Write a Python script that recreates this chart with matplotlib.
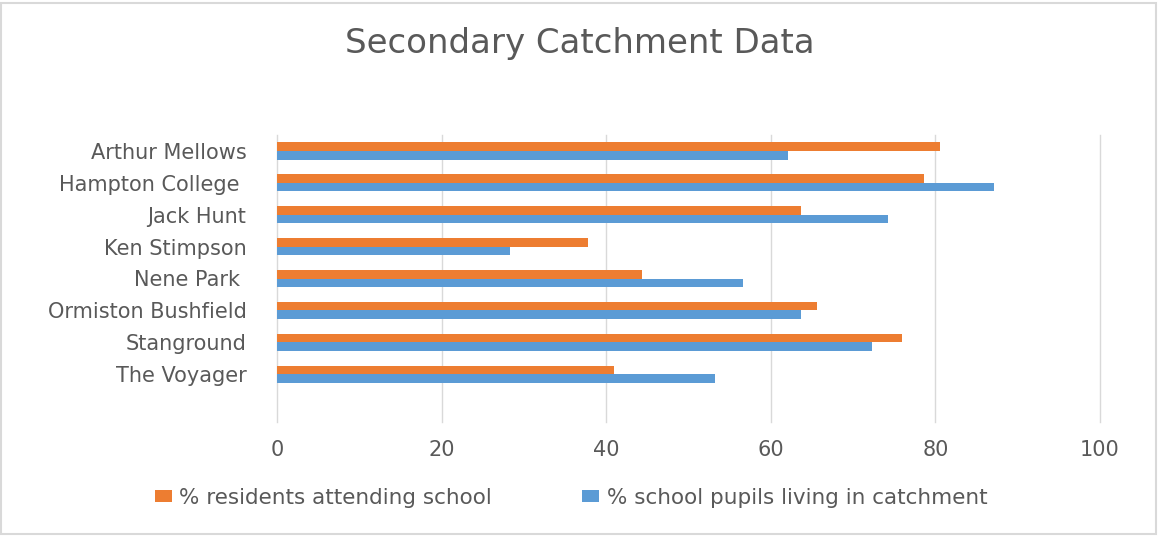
import matplotlib
matplotlib.use("Agg")
import matplotlib.pyplot as plt
from matplotlib.patches import Rectangle, Patch
import numpy as np

schools = ["Arthur Mellows", "Hampton College ", "Jack Hunt", "Ken Stimpson",
           "Nene Park ", "Ormiston Bushfield", "Stanground", "The Voyager"]
residents_attending = [80.5, 78.6, 63.7, 37.8, 44.3, 65.6, 76.0, 40.9]
pupils_in_catchment = [62.1, 87.1, 74.3, 28.3, 56.6, 63.7, 72.3, 53.2]
series_names = ["% residents attending school", "% school pupils living in catchment"]
xticks = [0, 20, 40, 60, 80, 100]

ORANGE = "#ED7D31"
BLUE = "#5B9BD5"
TXT = "#595959"
GRID = "#D9D9D9"

plt.rcParams['font.family'] = ['DejaVu Sans']

W, H = 1158, 536
fig = plt.figure(figsize=(W / 100, H / 100), dpi=100)
fig.patch.set_facecolor("white")
ax = fig.add_axes([277 / W, 1 - 422 / H, (1100 - 277) / W, (422 - 135) / H])

y = np.arange(len(schools))
bh = 0.27
ax.barh(y - bh / 2, residents_attending, height=bh, color=ORANGE, label=series_names[0], zorder=3)
ax.barh(y + bh / 2, pupils_in_catchment, height=bh, color=BLUE, label=series_names[1], zorder=3)

ax.set_xlim(0, 100)
ax.set_ylim(8.5, -0.5)
ax.set_xticks(xticks)
ax.set_xticklabels([str(t) for t in xticks])
ax.set_yticks(y)
ax.set_yticklabels(schools)
ax.grid(axis="x", color=GRID, linewidth=1, zorder=0)
for gl in ax.xaxis.get_gridlines():
    gl.set_clip_on(False)
for s in ax.spines.values():
    s.set_visible(False)
ax.tick_params(axis="x", length=0, pad=13, labelsize=15, labelcolor=TXT)
ax.tick_params(axis="y", length=0, pad=22, labelsize=15, labelcolor=TXT)

fig.text(580 / W, 1 - 43 / H, "Secondary Catchment Data", ha="center", va="center",
         fontsize=24.5, color=TXT)

handles = [Patch(facecolor=ORANGE), Patch(facecolor=BLUE)]
fig.legend(handles, series_names, loc="center", bbox_to_anchor=(571 / W, 1 - 498 / H),
           ncol=2, frameon=False, fontsize=15.5, labelcolor=TXT,
           handlelength=0.8, handleheight=0.5, handletextpad=0.33, columnspacing=4.2,
           borderpad=0, borderaxespad=0)

fig.patches.append(Rectangle((1 / W, 2 / H), 1155 / W, 531 / H, transform=fig.transFigure,
                             fill=False, edgecolor=GRID, linewidth=1.5))

fig.savefig("out.png", dpi=100)
